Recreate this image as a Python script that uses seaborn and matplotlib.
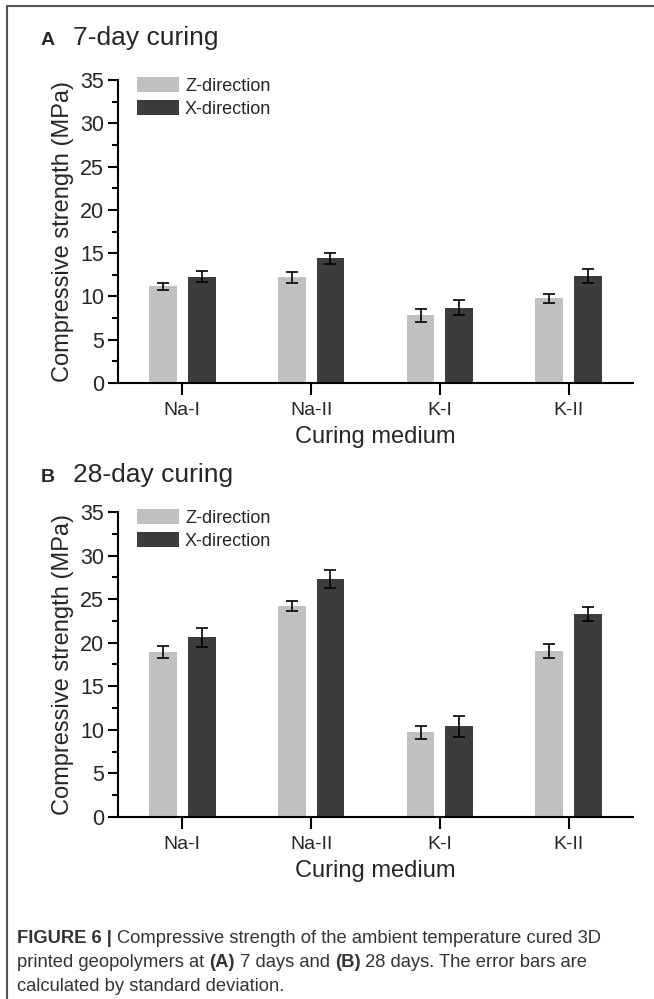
import numpy as np
import pandas as pd
import matplotlib
matplotlib.use("Agg")
import matplotlib.pyplot as plt
import seaborn as sns
from matplotlib.ticker import MultipleLocator
from matplotlib.lines import Line2D

# values (MPa, mean and standard deviation)
media = ["Na-I", "Na-II", "K-I", "K-II"]
directions = ["Z-direction", "X-direction"]

z_7day = [11.2, 12.2, 7.8, 9.8]
z_7day_sd = [0.4, 0.6, 0.7, 0.5]
x_7day = [12.3, 14.4, 8.7, 12.4]
x_7day_sd = [0.6, 0.6, 0.9, 0.8]

z_28day = [18.9, 24.2, 9.7, 19.1]
z_28day_sd = [0.7, 0.6, 0.7, 0.8]
x_28day = [20.6, 27.3, 10.4, 23.3]
x_28day_sd = [1.1, 1.0, 1.2, 0.8]

colors = ["#c0c0c0", "#3c3c3c"]

sns.set_style("ticks")
plt.rcParams["font.family"] = ["Liberation Sans", "DejaVu Sans"]


def make_frame(z, x):
    return pd.DataFrame({
        "medium": media * 2,
        "direction": [directions[0]] * 4 + [directions[1]] * 4,
        "strength": list(z) + list(x),
    })


def draw_panel(ax, z, z_sd, x, x_sd):
    df = make_frame(z, x)
    sns.barplot(data=df, x="medium", y="strength", hue="direction",
                order=media, hue_order=directions, palette=colors,
                width=0.6, gap=0.28, errorbar=None, saturation=1,
                linewidth=0, ax=ax)
    # error bars on top of the bars seaborn placed
    for cont, sd in zip(ax.containers, [z_sd, x_sd]):
        xc = [p.get_x() + p.get_width() / 2 for p in cont.patches]
        hs = [p.get_height() for p in cont.patches]
        ax.errorbar(xc, hs, yerr=sd, fmt="none", ecolor="black",
                    elinewidth=1.2, capsize=4.5, capthick=1.2, zorder=5)

    ax.set_xlim(-0.5, 3.5)
    ax.set_ylim(0, 35)
    ax.yaxis.set_major_locator(MultipleLocator(5))
    ax.yaxis.set_minor_locator(MultipleLocator(2.5))
    ax.set_ylabel("Compressive strength (MPa)", fontsize=17, labelpad=4)
    ax.set_xlabel("Curing medium", fontsize=17, labelpad=5)
    ax.tick_params(axis="y", which="major", length=7, width=1.5,
                   labelsize=15.5, pad=3, color="black")
    ax.tick_params(axis="y", which="minor", length=4, width=1.5, color="black")
    ax.tick_params(axis="x", length=8.5, width=1.5, labelsize=14, pad=5,
                   color="black")
    for side in ["top", "right"]:
        ax.spines[side].set_visible(False)
    for side in ["left", "bottom"]:
        ax.spines[side].set_linewidth(1.5)
        ax.spines[side].set_color("black")

    sns.move_legend(ax, "upper left", bbox_to_anchor=(0.037, 1.01),
                    frameon=False, title=None, fontsize=13, borderpad=0,
                    borderaxespad=0, handlelength=2.3, handleheight=0.9,
                    handletextpad=0.35, labelspacing=0.3)


fig = plt.figure(figsize=(6.54, 9.99), dpi=100)
ax_a = fig.add_axes([0.1804, 0.6166, 0.7875, 0.3033])
ax_b = fig.add_axes([0.1804, 0.1822, 0.7875, 0.3053])

draw_panel(ax_a, z_7day, z_7day_sd, x_7day, x_7day_sd)
draw_panel(ax_b, z_28day, z_28day_sd, x_28day, x_28day_sd)

# panel headings
fig.text(41 / 654, 1 - 45 / 999, "A", fontsize=14, fontweight="bold", va="baseline")
fig.text(73 / 654, 1 - 45 / 999, "7-day curing", fontsize=19, va="baseline")
fig.text(41 / 654, 1 - 482 / 999, "B", fontsize=14, fontweight="bold", va="baseline")
fig.text(73 / 654, 1 - 482 / 999, "28-day curing", fontsize=19, va="baseline")

# caption with bold pieces, laid out run by run
caption = [
    [("FIGURE 6 | ", True), ("Compressive strength of the ambient temperature cured 3D", False)],
    [("printed geopolymers at ", False), ("(A)", True), (" 7 days and ", False),
     ("(B)", True), (" 28 days. The error bars are", False)],
    [("calculated by standard deviation.", False)],
]
baselines = [943, 967, 991]
renderer = fig.canvas.get_renderer()
for runs, base in zip(caption, baselines):
    xpix = 17
    for s, bold in runs:
        t = fig.text(xpix / 654, 1 - base / 999, s, fontsize=13.2, color="#333333",
                     fontweight="bold" if bold else "normal", va="baseline")
        xpix += t.get_window_extent(renderer).width

# figure frame lines (left and top)
fig.add_artist(Line2D([7 / 654, 7 / 654], [0, 1 - 6 / 999], transform=fig.transFigure,
                      color="#555555", linewidth=1.5))
fig.add_artist(Line2D([7 / 654, 1], [1 - 6 / 999, 1 - 6 / 999], transform=fig.transFigure,
                      color="#555555", linewidth=1.5))

fig.savefig("out.png", dpi=100)
